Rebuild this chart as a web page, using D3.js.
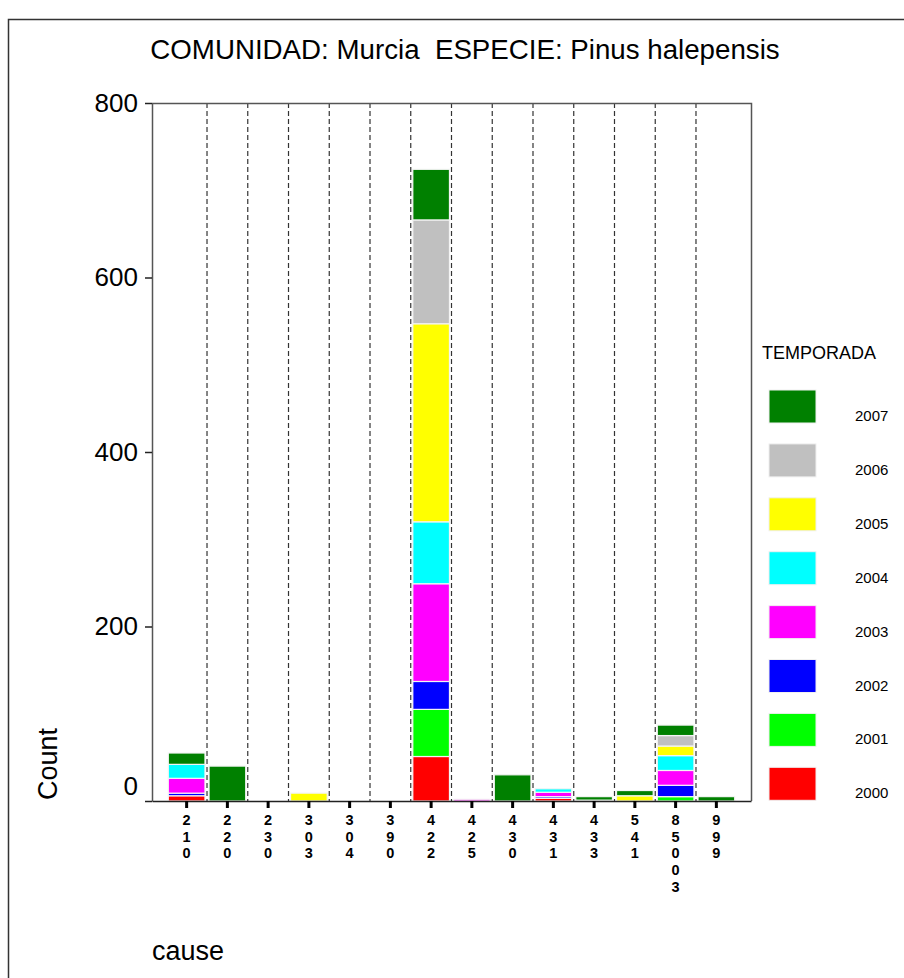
<!DOCTYPE html>
<html>
<head>
<meta charset="utf-8">
<script src="https://cdn.jsdelivr.net/npm/d3@7"></script>
<style>
  body { margin: 0; background: #fff; }
  svg { font-family: "Liberation Sans", Arial, sans-serif; }
</style>
</head>
<body>
<div class="barchart"></div>
<script>
// Data
var causes = ["210", "220", "230", "303", "304", "390", "422", "425", "430", "431", "433", "541", "85003", "999"];
var seasons = ["2000", "2001", "2002", "2003", "2004", "2005", "2006", "2007"];
var yTicks = [0, 200, 400, 600, 800];

var s2000 = [6, 0, 0, 0, 0, 0, 51, 0, 0, 3, 0, 0, 0, 0];
var s2001 = [0, 0, 0, 0, 0, 0, 54, 0, 0, 0, 0, 0, 5, 0];
var s2002 = [3, 0, 0, 0, 0, 0, 32, 0, 0, 2, 0, 0, 13, 0];
var s2003 = [17, 0, 0, 0, 0, 0, 112, 2, 0, 5, 0, 0, 17, 0];
var s2004 = [16, 0, 0, 0, 0, 0, 71, 0, 0, 4, 0, 0, 17, 0];
var s2005 = [0, 0, 0, 9, 0, 0, 227, 0, 0, 0, 0, 6, 11, 0];
var s2006 = [0, 0, 0, 0, 0, 0, 119, 0, 0, 0, 1, 0, 12, 0];
var s2007 = [13, 40, 0, 0, 0, 0, 58, 0, 30, 0, 4, 6, 12, 5];

var seasonColors = ["#ff0000", "#00ff00", "#0000ff", "#ff00ff", "#00ffff", "#ffff00", "#c0c0c0", "#008000"];

// Dimensions
var svgWidth = 904;
var svgHeight = 978;
var margin = {top: 103, left: 152};
var chartWidth = 599;
var chartHeight = 698;

var series = [s2000, s2001, s2002, s2003, s2004, s2005, s2006, s2007];
var rows = causes.map(function(c, i) {
    var row = {cause: c};
    seasons.forEach(function(s, j) { row[s] = series[j][i]; });
    return row;
});

var x = d3.scaleBand()
    .domain(causes)
    .range([0, chartWidth])
    .paddingInner(0)
    .paddingOuter(0.35);

var y = d3.scaleLinear()
    .domain([0, 800])
    .range([chartHeight, 0]);

var z = d3.scaleOrdinal()
    .domain(seasons)
    .range(seasonColors);

var stack = d3.stack().keys(seasons);

var svg = d3.select(".barchart").append("svg")
    .attr("width", svgWidth)
    .attr("height", svgHeight);

// outer frame
svg.append("rect")
    .attr("x", 8.5).attr("y", 19.5)
    .attr("width", 1000).attr("height", 1000)
    .attr("fill", "none")
    .attr("stroke", "#333")
    .attr("stroke-width", 1.5);

// title
svg.append("text")
    .attr("x", 465)
    .attr("y", 59)
    .attr("text-anchor", "middle")
    .attr("font-size", "27.7px")
    .attr("fill", "#000")
    .text("COMUNIDAD: Murcia\u00a0\u00a0ESPECIE: Pinus halepensis");

var g = svg.append("g")
    .attr("transform", "translate(" + margin.left + "," + margin.top + ")");

// dashed separators between categories
g.selectAll(".sep")
    .data(causes.slice(1))
    .enter().append("line")
    .attr("class", "sep")
    .attr("x1", function(d) { return x(d); })
    .attr("x2", function(d) { return x(d); })
    .attr("y1", 0)
    .attr("y2", chartHeight)
    .attr("stroke", "#333")
    .attr("stroke-width", 1.2)
    .attr("stroke-dasharray", "5,3");

// frame top & right
g.append("path")
    .attr("d", "M0,0.5H" + (chartWidth + 0.5) + "V" + chartHeight)
    .attr("fill", "none")
    .attr("stroke", "#555")
    .attr("stroke-width", 1.5);

// stacked bars
var serie = g.selectAll(".serie")
    .data(stack(rows))
    .enter().append("g")
    .attr("class", "serie")
    .attr("fill", function(d) { return z(d.key); });

serie.selectAll("rect")
    .data(function(d) { return d.filter(function(p) { return p[1] - p[0] > 0; }); })
    .enter().append("rect")
    .attr("x", function(d) { return x(d.data.cause) + x.bandwidth() * 0.05; })
    .attr("width", x.bandwidth() * 0.9)
    .attr("y", function(d) { return y(d[1]); })
    .attr("height", function(d) { return y(d[0]) - y(d[1]); })
    .attr("stroke", "#f4f4f4")
    .attr("stroke-width", 1.2);

// y axis
var yAxis = g.append("g")
    .attr("class", "axis axis--y")
    .call(d3.axisLeft(y).tickValues(yTicks).tickSize(7).tickSizeOuter(0).tickPadding(7).tickFormat(d3.format("d")));
yAxis.select(".domain").attr("stroke", "#555").attr("stroke-width", 1.5);
yAxis.selectAll(".tick line").attr("stroke", "#222").attr("stroke-width", 1.5);
yAxis.selectAll(".tick text")
    .attr("font-size", "26px")
    .attr("font-family", "'Liberation Sans', Arial, sans-serif")
    .attr("fill", "#000")
    .attr("dy", function(d) { return d === 0 ? "-0.25em" : "0.32em"; });

// x axis
var xAxis = g.append("g")
    .attr("class", "axis axis--x")
    .attr("transform", "translate(0," + chartHeight + ")")
    .call(d3.axisBottom(x).tickSize(7).tickSizeOuter(0).tickFormat(""));
xAxis.select(".domain").attr("stroke", "#222").attr("stroke-width", 1.5);
xAxis.selectAll(".tick line").attr("stroke", "#000").attr("stroke-width", 3);

// vertical digit labels (one character per line)
g.selectAll(".xlabel")
    .data(causes)
    .enter().append("text")
    .attr("class", "xlabel")
    .attr("text-anchor", "middle")
    .attr("font-size", "14.5px")
    .attr("font-weight", "bold")
    .attr("fill", "#000")
    .each(function(d) {
        var t = d3.select(this);
        var cx = x(d) + x.bandwidth() / 2;
        d.split("").forEach(function(ch, k) {
            t.append("tspan")
                .attr("x", cx)
                .attr("y", chartHeight + 24 + k * 16.7)
                .text(ch);
        });
    });

// axis titles
svg.append("text")
    .attr("transform", "translate(57,764) rotate(-90)")
    .attr("text-anchor", "middle")
    .attr("font-size", "27px")
    .attr("fill", "#000")
    .text("Count");

svg.append("text")
    .attr("x", 152)
    .attr("y", 960)
    .attr("font-size", "27px")
    .attr("fill", "#000")
    .text("cause");

// legend
var legend = svg.append("g")
    .attr("class", "legend")
    .attr("transform", "translate(762,0)");

legend.append("text")
    .attr("x", 0)
    .attr("y", 359)
    .attr("font-size", "18px")
    .attr("fill", "#000")
    .text("TEMPORADA");

var item = legend.selectAll(".item")
    .data(seasons.slice().reverse())
    .enter().append("g")
    .attr("class", "item")
    .attr("transform", function(d, i) { return "translate(7," + (390 + i * 53.9) + ")"; });

item.append("rect")
    .attr("width", 47)
    .attr("height", 33)
    .attr("fill", function(d) { return z(d); })
    .attr("stroke", "#f0f0f0")
    .attr("stroke-width", 1);

item.append("text")
    .attr("x", 86)
    .attr("y", 31)
    .attr("font-size", "15px")
    .attr("fill", "#000")
    .text(function(d) { return d; });
</script>
</body>
</html>
